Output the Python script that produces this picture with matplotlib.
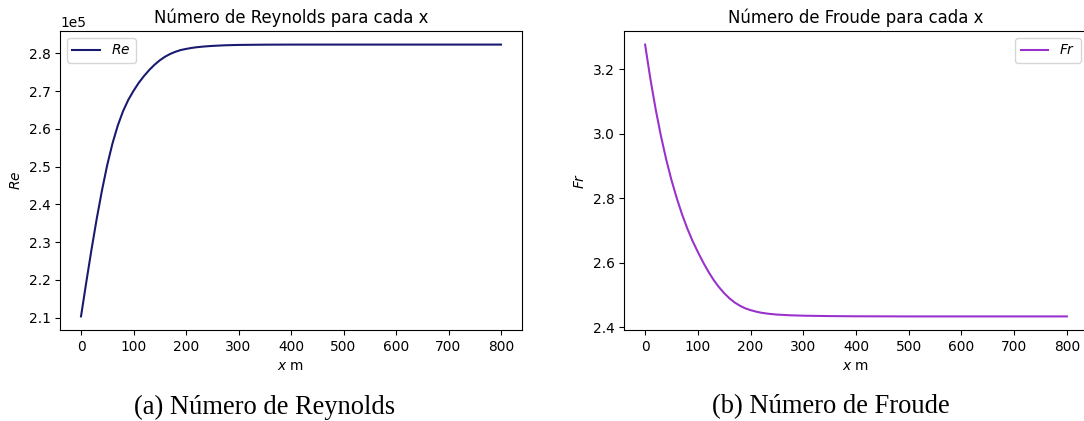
import matplotlib.pyplot as plt
import numpy as np

# posiciones x (m) y valores
x_re = [0, 10, 20, 30, 40, 50, 60, 70, 80, 90, 100, 110, 120, 130, 140, 150,
        160, 170, 180, 190, 200, 210, 220, 235, 250, 275, 300, 350, 400, 500,
        600, 700, 800]
re_vals = [2.1035, 2.1935, 2.2805, 2.3625, 2.4375, 2.5045, 2.5615, 2.6085,
           2.6465, 2.6765, 2.7005, 2.7218, 2.7398, 2.7558, 2.7696, 2.7813,
           2.7909, 2.7983, 2.8041, 2.8086, 2.8115, 2.8140, 2.8160, 2.8180,
           2.8195, 2.8212, 2.8221, 2.8228, 2.8230, 2.8230, 2.8230, 2.8230,
           2.8230]

x_fr = [0, 10, 20, 30, 40, 50, 60, 70, 80, 90, 100, 110, 120, 130, 140, 150,
        160, 170, 180, 190, 200, 210, 220, 235, 250, 275, 300, 350, 400, 500,
        600, 700, 800]
fr_vals = [3.277, 3.171, 3.077, 2.994, 2.921, 2.857, 2.801, 2.751, 2.707,
           2.668, 2.634, 2.602, 2.573, 2.547, 2.525, 2.506, 2.490, 2.477,
           2.467, 2.459, 2.4535, 2.449, 2.4455, 2.442, 2.4397, 2.4375,
           2.4362, 2.435, 2.4344, 2.434, 2.434, 2.434, 2.434]

captions = ["(a) Número de Reynolds", "(b) Número de Froude"]

W, H, dpi = 1084, 421, 99
fig = plt.figure(figsize=(W / dpi, H / dpi), dpi=dpi)

ax1 = fig.add_axes([60 / W, 1 - 330 / H, 462 / W, 299 / H])
ax2 = fig.add_axes([624 / W, 1 - 330 / H, 464 / W, 299 / H])

ax1.plot(x_re, np.array(re_vals) * 1e5, color="midnightblue", label="$Re$")
ax1.set_title("Número de Reynolds para cada x")
ax1.set_xlabel("$x$ m")
ax1.set_ylabel("$Re$")
ax1.set_xticks(range(0, 801, 100))
ax1.ticklabel_format(axis="y", style="sci", scilimits=(0, 0))
ax1.legend(loc="upper left")

ax2.plot(x_fr, fr_vals, color="darkorchid", label="$Fr$")
ax2.set_title("Número de Froude para cada x")
ax2.set_xlabel("$x$ m")
ax2.set_ylabel("$Fr$")
ax2.set_xticks(range(0, 801, 100))
ax2.legend(loc="upper right")

fig.text(265 / W, 1 - 407 / H, captions[0], ha="center", va="center",
         family="Liberation Serif", fontsize=19.3)
fig.text(831 / W, 1 - 407 / H, captions[1], ha="center", va="center",
         family="Liberation Serif", fontsize=19.3)

fig.savefig("out.png", dpi=dpi)
